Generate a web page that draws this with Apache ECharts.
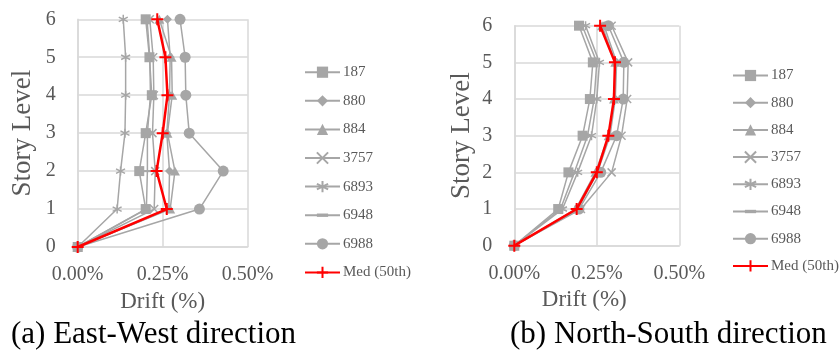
<!DOCTYPE html>
<html>
<head>
<meta charset="utf-8">
<script src="https://cdn.jsdelivr.net/npm/echarts@6/dist/echarts.min.js"></script>
<style>
html, body { margin: 0; padding: 0; background: #fff; }
#main { width: 840px; height: 359px; }
</style>
</head>
<body>
<div id="main"></div>
<script>
// story levels (y) and record names
const stories = [0, 1, 2, 3, 4, 5, 6]
const names = ['187', '880', '884', '3757', '6893', '6948', '6988', 'Med (50th)']

// East-West drift (%) per story
const ew187 = [0, 0.200, 0.181, 0.200, 0.218, 0.211, 0.200]
const ew880 = [0, 0.268, 0.270, 0.262, 0.270, 0.272, 0.264]
const ew884 = [0, 0.272, 0.286, 0.264, 0.278, 0.276, 0.240]
const ew3757 = [0, 0.225, 0.228, 0.220, 0.224, 0.222, 0.212]
const ew6893 = [0, 0.116, 0.126, 0.139, 0.141, 0.141, 0.134]
const ew6948 = [0, 0.202, 0.205, 0.205, 0.214, 0.212, 0.204]
const ew6988 = [0, 0.358, 0.428, 0.328, 0.318, 0.316, 0.301]
const ewMed = [0, 0.262, 0.232, 0.250, 0.264, 0.258, 0.234]

// North-South drift (%) per story
const ns187 = [0, 0.133, 0.164, 0.207, 0.229, 0.238, 0.196]
const ns880 = [0, 0.192, 0.252, 0.290, 0.306, 0.310, 0.272]
const ns884 = [0, 0.186, 0.246, 0.286, 0.302, 0.306, 0.266]
const ns3757 = [0, 0.202, 0.295, 0.325, 0.342, 0.345, 0.295]
const ns6893 = [0, 0.146, 0.192, 0.234, 0.250, 0.258, 0.216]
const ns6948 = [0, 0.140, 0.182, 0.222, 0.242, 0.250, 0.206]
const ns6988 = [0, 0.196, 0.262, 0.310, 0.330, 0.332, 0.285]
const nsMed = [0, 0.189, 0.250, 0.285, 0.302, 0.305, 0.260]

const ewAll = [ew187, ew880, ew884, ew3757, ew6893, ew6948, ew6988, ewMed]
const nsAll = [ns187, ns880, ns884, ns3757, ns6893, ns6948, ns6988, nsMed]

const gray = '#a6a6a6'
const red = '#ff0000'
const font = 'Liberation Serif'

const xPath = 'path://M0,0L10,10M10,0L0,10'
const starPath = 'path://M5,0L5,10M0.7,2.5L9.3,7.5M9.3,2.5L0.7,7.5'
const plusPath = 'path://M5,0L5,10M0,5L10,5'
// small flat dash inside a square box so legend and plot keep it flat
const dashPath = 'path://M0,0L0,0M10,10L10,10M0,3.5L10,3.5L10,6.5L0,6.5Z'
const symbols = ['rect', 'diamond', 'triangle', xPath, starPath, dashPath, 'circle', plusPath]
const sizes = [10, 9, [10, 9], 8, 9, 7, 11, 12]
const stroked = [false, false, false, true, true, false, false, true]

function makeSeries(all, idx) {
  return all.map((vals, i) => {
    const isMed = i === all.length - 1
    const c = isMed ? red : gray
    return {
      name: names[i],
      type: 'line',
      xAxisIndex: idx,
      yAxisIndex: idx,
      data: vals.map((v, k) => [v, stories[k]]),
      symbol: symbols[i],
      symbolSize: sizes[i],
      z: isMed ? 5 : 2,
      lineStyle: { color: c, width: isMed ? 2.5 : 1.5 },
      itemStyle: stroked[i]
        ? { color: c, borderColor: c, borderWidth: isMed ? 2 : 1.5 }
        : { color: c, borderWidth: 0 }
    }
  })
}

function xAxis(idx, pad) {
  return {
    type: 'value', gridIndex: idx, min: 0, max: 0.5, interval: 0.25,
    name: 'Drift (%)', nameLocation: 'middle', nameGap: 43,
    nameTextStyle: { fontFamily: font, fontSize: 23, color: '#595959', padding: pad },
    axisLine: { show: true, lineStyle: { color: '#d9d9d9', width: 1.5 } },
    axisTick: { show: false },
    splitLine: { show: true, lineStyle: { color: '#d9d9d9', width: 1.5 } },
    axisLabel: {
      margin: 18, fontFamily: font, fontSize: 20, color: '#595959',
      formatter: v => v.toFixed(2) + '%'
    }
  }
}

function yAxis(idx, gap) {
  return {
    type: 'value', gridIndex: idx, min: 0, max: 6, interval: 1,
    name: 'Story Level', nameLocation: 'middle', nameGap: gap,
    nameTextStyle: { fontFamily: font, fontSize: 27, color: '#595959' },
    axisLine: { show: true, lineStyle: { color: '#d9d9d9', width: 1.5 } },
    axisTick: { show: false },
    splitLine: { show: true, lineStyle: { color: '#d9d9d9', width: 1.5 } },
    axisLabel: { margin: 22, fontFamily: font, fontSize: 20, color: '#595959' }
  }
}

function legend(left, top, gap) {
  return {
    orient: 'vertical', left: left, top: top, padding: 0,
    itemWidth: 35, itemHeight: 14, itemGap: gap,
    data: names,
    textStyle: { fontFamily: font, fontSize: 15, color: '#595959', padding: [0, 0, 0, -2] }
  }
}

const option = {
  animation: false,
  backgroundColor: '#fff',
  grid: [
    { left: 77.7, top: 19.3, width: 170, height: 227.7 },
    { left: 514.3, top: 25.7, width: 165, height: 220 }
  ],
  xAxis: [xAxis(0, [0, 0, 0, 0]), xAxis(1, [0, 25, 0, 0])],
  yAxis: [yAxis(0, 41), yAxis(1, 39)],
  legend: [legend(304, 64.7, 13.6), legend(732, 68, 12.2)],
  graphic: [
    { type: 'text', left: 11, top: 319, style: { text: '(a) East-West direction', font: '31px "Liberation Serif"', fill: '#000' } },
    { type: 'text', left: 510, top: 319, style: { text: '(b) North-South direction', font: '31px "Liberation Serif"', fill: '#000' } }
  ],
  series: makeSeries(ewAll, 0).concat(makeSeries(nsAll, 1))
}

const chart = echarts.init(document.getElementById('main'))
chart.setOption(option)
</script>
</body>
</html>
